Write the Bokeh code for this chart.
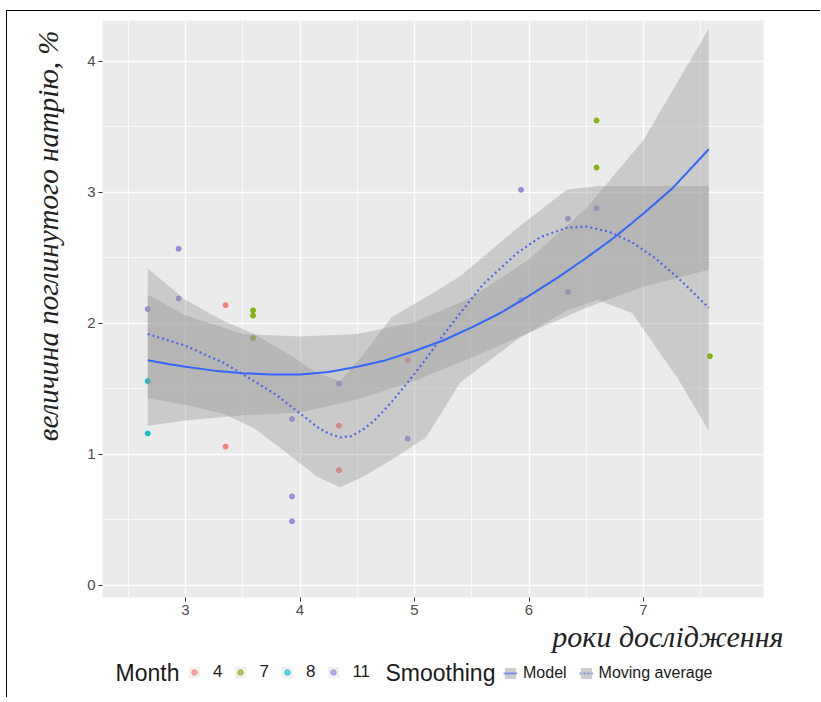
from bokeh.plotting import figure
from bokeh.models import Range1d, Legend, LegendItem, Label, FixedTicker, Title
from bokeh.layouts import column
from bokeh.embed import file_html
from bokeh.resources import INLINE

# ---------------- data ----------------
point_year = [2.67, 2.67, 2.67, 2.94, 2.94, 3.35, 3.35, 3.59, 3.59, 3.59,
              3.93, 3.93, 3.93, 4.34, 4.34, 4.34, 4.94, 4.94, 5.93, 5.93,
              6.34, 6.34, 6.59, 6.59, 6.59, 7.58]
point_value = [2.11, 1.56, 1.16, 2.57, 2.19, 2.14, 1.06, 2.10, 2.06, 1.89,
               1.27, 0.68, 0.49, 1.54, 1.22, 0.88, 1.72, 1.12, 3.02, 2.18,
               2.80, 2.24, 3.55, 3.19, 2.88, 1.75]
point_month = ["11", "8", "8", "11", "11", "4", "4", "7", "7", "7",
               "11", "11", "11", "11", "4", "4", "4", "11", "11", "11",
               "11", "11", "7", "7", "11", "7"]

month_levels = ["4", "7", "8", "11"]
month_colors = ["#F8766D", "#7CAE00", "#00BFC4", "#8C84D8"]

# model (solid) curve
model_x = [2.67, 2.85, 3.0, 3.25, 3.5, 3.75, 4.0, 4.25, 4.5, 4.75, 5.0,
           5.25, 5.5, 5.75, 6.0, 6.25, 6.5, 6.75, 7.0, 7.25, 7.57]
model_y = [1.72, 1.69, 1.67, 1.64, 1.62, 1.61, 1.61, 1.63, 1.67, 1.72, 1.79,
           1.87, 1.97, 2.08, 2.21, 2.35, 2.50, 2.66, 2.84, 3.03, 3.33]
# model confidence band
model_band_x = [2.67, 3.0, 3.5, 4.0, 4.5, 5.0, 5.5, 6.0, 6.5, 7.0, 7.57]
model_lo = [1.22, 1.26, 1.30, 1.32, 1.42, 1.56, 1.74, 1.93, 2.12, 2.28, 2.41]
model_hi = [2.22, 2.06, 1.92, 1.90, 1.92, 2.01, 2.20, 2.49, 2.88, 3.40, 4.25]

# moving average (dotted) curve
ma_x = [2.67, 3.0, 3.33, 3.6, 3.8, 3.93, 4.05, 4.15, 4.25, 4.35, 4.45, 4.55,
        4.65, 4.8, 4.95, 5.1, 5.25, 5.4, 5.6, 5.9, 6.1, 6.33, 6.5, 6.7, 6.9,
        7.1, 7.3, 7.57]
ma_y = [1.92, 1.83, 1.70, 1.56, 1.45, 1.36, 1.28, 1.21, 1.16, 1.13, 1.14, 1.19,
        1.26, 1.40, 1.56, 1.73, 1.91, 2.08, 2.30, 2.54, 2.66, 2.73, 2.74, 2.70,
        2.62, 2.50, 2.35, 2.12]
# moving average band
ma_band_x = [2.67, 3.0, 3.33, 3.6, 3.93, 4.15, 4.35, 4.55, 4.8, 5.1, 5.4,
             5.9, 6.33, 6.6, 6.9, 7.3, 7.57]
ma_lo = [1.43, 1.38, 1.31, 1.20, 0.98, 0.83, 0.75, 0.83, 0.96, 1.13, 1.55,
         1.88, 2.10, 2.18, 2.08, 1.58, 1.18]
ma_hi = [2.42, 2.18, 2.02, 1.92, 1.75, 1.62, 1.56, 1.76, 2.05, 2.20, 2.36,
         2.73, 3.02, 3.05, 3.05, 3.05, 3.05]

x_ticks = [3, 4, 5, 6, 7]
x_minor = [2.5, 3.5, 4.5, 5.5, 6.5, 7.5]
y_ticks = [0, 1, 2, 3, 4]
y_minor = [0.5, 1.5, 2.5, 3.5]

y_title = "величина поглинутого натрію, %"
x_title = "роки дослідження"
month_title = "Month"
smooth_title = "Smoothing"
smooth_labels = ["Model", "Moving average"]

RIBBON = "#999999"
MODEL_COLOR = "#3366FF"
MA_COLOR = "#5064E6"
NAN = float("nan")

# ---------------- main figure ----------------
p = figure(frame_width=661, frame_height=577, output_backend="svg",
           toolbar_location=None,
           x_range=Range1d(2.275, 8.048), y_range=Range1d(-0.092, 4.313),
           min_border_left=95, min_border_right=57, min_border_top=9,
           min_border_bottom=64)
p.background_fill_color = "#EBEBEB"
p.border_fill_color = "white"
p.outline_line_color = None

xt = FixedTicker(ticks=x_ticks, minor_ticks=x_minor)
yt = FixedTicker(ticks=y_ticks, minor_ticks=y_minor)
p.xaxis.ticker = xt
p.yaxis.ticker = yt
p.xgrid.ticker = xt
p.ygrid.ticker = yt
for g in (p.xgrid, p.ygrid):
    g.grid_line_color = "white"
    g.grid_line_width = 1.4
    g.minor_grid_line_color = "white"
    g.minor_grid_line_width = 0.7

for ax in (p.xaxis, p.yaxis):
    ax.axis_line_color = None
    ax.major_tick_line_color = "#333333"
    ax.major_tick_out = 4
    ax.major_tick_in = 0
    ax.minor_tick_line_color = None
    ax.major_label_text_font = "Liberation Sans"
    ax.major_label_text_font_size = "15px"
    ax.major_label_text_color = "#4D4D4D"
    ax.major_label_standoff = 3

# y title (placed near the top of the left margin, as in the reference)
p.add_layout(Title(text=y_title, align="right", offset=10, standoff=42,
                   text_font="Liberation Serif", text_font_style="italic",
                   text_font_size="29px", text_color="#222222"), "left")

# points
for m, c in zip(month_levels, month_colors):
    xs = [x for x, mm in zip(point_year, point_month) if mm == m]
    ys = [y for y, mm in zip(point_value, point_month) if mm == m]
    p.scatter(xs, ys, size=5, fill_color=c, line_color=c, alpha=0.9)

# ribbons and lines
p.varea(x=model_band_x, y1=model_lo, y2=model_hi, fill_color=RIBBON, fill_alpha=0.4)
p.varea(x=ma_band_x, y1=ma_lo, y2=ma_hi, fill_color=RIBBON, fill_alpha=0.4)
p.line(model_x, model_y, line_color=MODEL_COLOR, line_width=2)
p.line(ma_x, ma_y, line_color=MA_COLOR, line_width=2.2, line_dash="2 3")

# x title
p.add_layout(Title(text=x_title, align="right", offset=-20, standoff=0,
                   text_font="Liberation Serif", text_font_style="italic",
                   text_font_size="30px", text_color="#222222"), "below")

# ---------------- legend strip (frame aligned with main frame) ----------------
FX0, FX1, LH = 102, 763, 36          # page x of the aligned frame
q = figure(width=813, height=LH, output_backend="svg", toolbar_location=None,
           x_range=Range1d(FX0, FX1), y_range=Range1d(0, LH),
           x_axis_type=None, y_axis_type=None, min_border=0)
q.outline_line_color = None
q.background_fill_color = "white"
q.border_fill_color = "white"

# legend-only renderers (NaN data: nothing is drawn in the strip itself)
bg = q.quad(left=[NAN], right=[NAN], top=[NAN], bottom=[NAN],
            fill_color="#F0F0F0", line_color=None)
month_keys = [q.scatter([NAN], [NAN], size=5, fill_color=c, line_color=c,
                        alpha=0.6) for c in month_colors]
k_band = q.varea(x=[NAN], y1=[NAN], y2=[NAN], fill_color=RIBBON, fill_alpha=0.4)
k_model = q.line([NAN], [NAN], line_color=MODEL_COLOR, line_width=2, line_alpha=0.6)
k_ma = q.line([NAN], [NAN], line_color=MA_COLOR, line_width=2, line_alpha=0.6,
              line_dash="2 2")

q.add_layout(Label(x=115, y=25, text=month_title, text_font="Liberation Sans",
                   text_font_size="23px", text_baseline="middle",
                   text_color="#1A1A1A"))
q.add_layout(Label(x=385, y=25, text=smooth_title, text_font="Liberation Sans",
                   text_font_size="23px", text_baseline="middle",
                   text_color="#1A1A1A"))

leg1 = Legend(items=[LegendItem(label=m, renderers=[bg, r])
                     for m, r in zip(month_levels, month_keys)],
              orientation="horizontal", location=(187 - FX0, 15))
leg2 = Legend(items=[LegendItem(label=smooth_labels[0], renderers=[bg, k_band, k_model]),
                     LegendItem(label=smooth_labels[1], renderers=[bg, k_band, k_ma])],
              orientation="horizontal", location=(503 - FX0, 15))
for lg, fs, so, sp in ((leg1, "17px", 12, 11), (leg2, "16px", 6, 12)):
    lg.glyph_width = 14
    lg.glyph_height = 14
    lg.label_height = 14
    lg.label_width = 0
    lg.label_standoff = so
    lg.spacing = sp
    lg.padding = 0
    lg.margin = 0
    lg.border_line_color = None
    lg.background_fill_alpha = 0
    lg.label_text_font = "Liberation Sans"
    lg.label_text_font_size = fs
    lg.label_text_color = "#1A1A1A"
    q.add_layout(lg)

layout = column(p, q, spacing=0)
layout.styles = {"margin-left": "6px", "margin-top": "10px",
                 "border-left": "1px solid #000000",
                 "border-top": "1px solid #000000"}

open("out.html", "w").write(file_html(layout, INLINE))
